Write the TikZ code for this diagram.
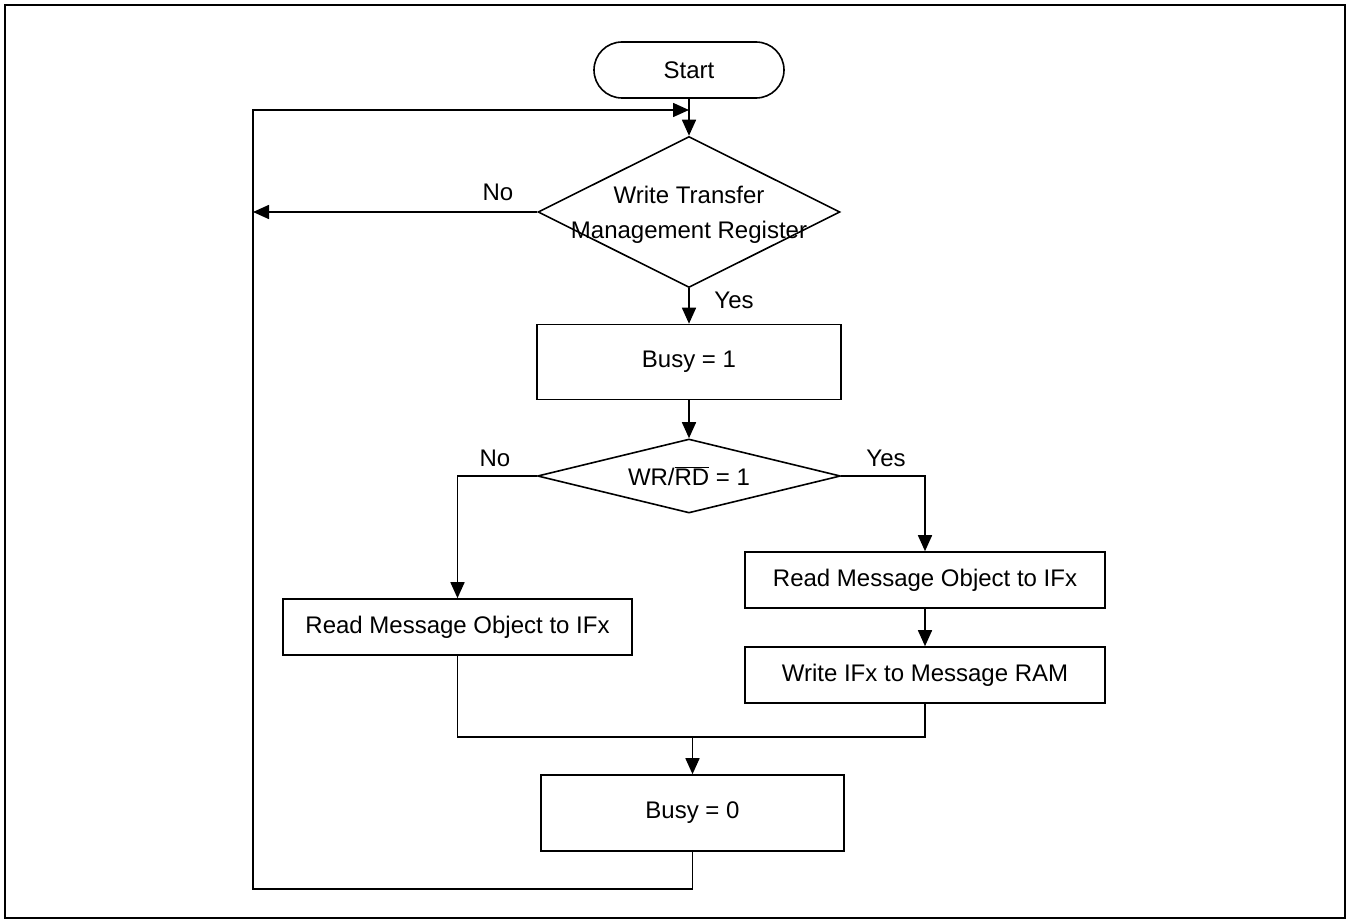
\documentclass[tikz,border=0pt]{standalone}
\usepackage{fontspec}
\setmainfont{Liberation Sans}
\usetikzlibrary{shapes.geometric,arrows.meta}
\begin{document}
\begin{tikzpicture}[x=1pt,y=-1pt,
  font=\fontsize{24}{28}\selectfont,
  line width=1.6pt,
  box/.style={draw,rectangle,inner sep=0pt,minimum width=#1},
  dec/.style={draw,diamond,inner sep=0pt,aspect=1},
  arr/.style={-{Triangle[length=16pt,width=14pt]}},
  lbl/.style={inner sep=0pt}]
\useasboundingbox (0,0) rectangle (1351,923);
\draw[line width=2.6pt] (5,5) rectangle (1345,918);
\node[draw,rectangle,rounded corners=28pt,minimum width=190pt,minimum height=56pt,inner sep=0pt] (start) at (689,70) {Start};
\node[dec,minimum width=302pt,minimum height=151pt,
  label={[align=center,font=\fontsize{24}{35}\selectfont,yshift=-3pt]center:Write Transfer\\Management Register}] (d1) at (689,212) {};
\node[box=304pt,minimum height=75pt] (b1) at (689,362) {Busy = 1};
\node[dec,minimum width=303pt,minimum height=74pt,
  label={center:WR/$\overline{\hbox{RD}}$ = 1}] (d2) at (689,476) {};
\node[box=349pt,minimum height=56pt] (lb) at (457.5,627) {Read Message Object to IFx};
\node[box=360pt,minimum height=56pt] (rb1) at (925,580) {Read Message Object to IFx};
\node[box=360pt,minimum height=56pt] (rb2) at (925,675) {Write IFx to Message RAM};
\node[box=303pt,minimum height=76pt] (b0) at (692.5,813) {Busy = 0};
\coordinate (J) at (689,110);
\coordinate (L1) at (253,212);
\coordinate (M) at (692.5,737);
\draw[arr] (start.south) -- (d1.north);
\draw[arr] (b0.south) -- ++(0,37) -| (253,110) -- (J);
\draw[arr] (d1.west) -- (L1);
\draw[arr] (d1.south) -- (b1.north);
\draw[arr] (b1.south) -- (d2.north);
\draw[arr] (d2.west) -| (lb.north);
\draw[arr] (d2.east) -| (rb1.north);
\draw[arr] (rb1.south) -- (rb2.south |- rb2.north);
\draw (lb.south) |- (M) -| (rb2.south);
\draw[arr] (M) -- (b0.north);
\node[lbl] (no1) at (498,192) {No};
\node[lbl] (yes1) at (734,300) {Yes};
\node[lbl] (no2) at (495,458) {No};
\node[lbl] (yes2) at (886,458) {Yes};
\end{tikzpicture}
\end{document}
